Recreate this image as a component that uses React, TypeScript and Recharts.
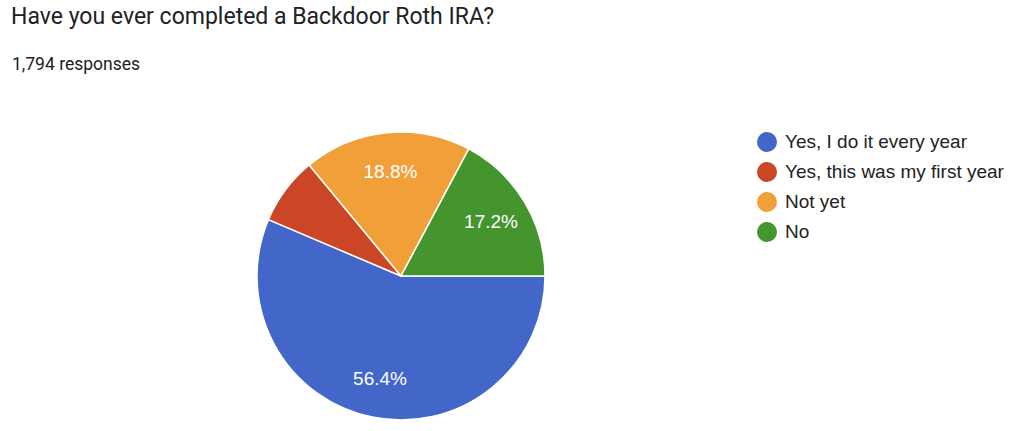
import { Cell, Pie, PieChart } from "recharts";

// Survey answers, in the order the pie draws them (clockwise from 3 o'clock).
const answers = ["Yes, I do it every year", "Yes, this was my first year", "Not yet", "No"];
const shares = [56.4, 7.6, 18.8, 17.2];
const colors = ["#4267c8", "#cb4627", "#f1a039", "#45952f"];

const TITLE = "Have you ever completed a Backdoor Roth IRA?";
const RESPONSES = "1,794 responses";

const data = answers.map((name, i) => ({ name, value: shares[i] }));

const RADIAN = Math.PI / 180;

// Google Forms-style labels: percentage inside the slice, hidden for tiny slices.
function renderLabel(props: any) {
  const { cx, cy, midAngle, percent } = props;
  if (percent < 0.1) return null;
  const r = 105;
  const x = cx + r * Math.cos(-midAngle * RADIAN);
  const y = cy + r * Math.sin(-midAngle * RADIAN);
  return (
    <text
      x={x}
      y={y}
      fill="#ffffff"
      textAnchor="middle"
      dominantBaseline="central"
      fontSize={19}
      fontFamily="Arial, 'Liberation Sans', sans-serif"
    >
      {`${(percent * 100).toFixed(1)}%`}
    </text>
  );
}

export default function App() {
  return (
    <div style={{ position: "relative", width: 1024, height: 431, background: "#fff" }}>
      <style>{`body{margin:0}`}</style>
      <div
        style={{
          position: "absolute",
          left: 11,
          top: 3,
          fontFamily: "Roboto, sans-serif",
          fontSize: 23,
          color: "#202124",
          whiteSpace: "nowrap",
        }}
      >
        {TITLE}
      </div>
      <div
        style={{
          position: "absolute",
          left: 12,
          top: 54,
          fontFamily: "Roboto, sans-serif",
          fontSize: 17.5,
          color: "#202124",
          whiteSpace: "nowrap",
        }}
      >
        {RESPONSES}
      </div>
      <div style={{ position: "absolute", left: 0, top: 0 }}>
        <PieChart width={1024} height={431} margin={{ top: 0, right: 0, bottom: 0, left: 0 }}>
          <Pie
            data={data}
            dataKey="value"
            nameKey="name"
            cx={401}
            cy={276}
            outerRadius={144}
            startAngle={0}
            endAngle={-360}
            stroke="#ffffff"
            strokeWidth={1.5}
            label={renderLabel}
            labelLine={false}
            isAnimationActive={false}
          >
            {data.map((d, i) => (
              <Cell key={d.name} fill={colors[i]} />
            ))}
          </Pie>
        </PieChart>
      </div>
      <div style={{ position: "absolute", left: 757, top: 127 }}>
        {answers.map((name, i) => (
          <div
            key={name}
            style={{
              display: "flex",
              alignItems: "center",
              height: 30,
              fontFamily: "Arial, 'Liberation Sans', sans-serif",
              fontSize: 19,
              color: "#222222",
              whiteSpace: "nowrap",
            }}
          >
            <span
              style={{
                display: "inline-block",
                width: 20,
                height: 20,
                borderRadius: "50%",
                background: colors[i],
                marginRight: 8,
              }}
            />
            {name}
          </div>
        ))}
      </div>
    </div>
  );
}
